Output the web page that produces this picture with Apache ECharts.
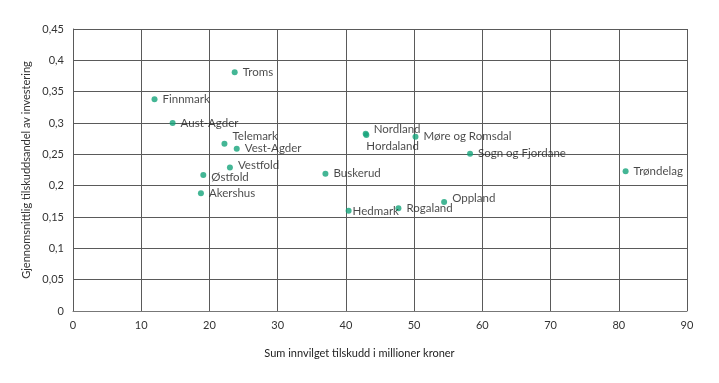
<!DOCTYPE html>
<html>
<head>
<meta charset="utf-8">
<script src="https://cdn.jsdelivr.net/npm/echarts@6/dist/echarts.min.js"></script>
<style>
html,body{margin:0;padding:0;background:#fff;}
#c{width:719px;height:383px;}
</style>
</head>
<body>
<div id="c"></div>
<script>
// Data
var counties = ["Troms","Finnmark","Aust-Agder","Telemark","Vest-Agder","Vestfold","Østfold","Akershus","Buskerud","Nordland","Hordaland","Møre og Romsdal","Sogn og Fjordane","Trøndelag","Oppland","Rogaland","Hedmark"];
var grantSum = [23.7, 11.95, 14.6, 22.2, 24.0, 23.0, 19.1, 18.75, 37.0, 42.9, 43.0, 50.2, 58.2, 81.0, 54.4, 47.7, 40.4];
var grantShare = [0.381, 0.338, 0.300, 0.267, 0.259, 0.229, 0.217, 0.188, 0.219, 0.283, 0.281, 0.278, 0.251, 0.223, 0.174, 0.164, 0.160];
var xTicks = [0, 10, 20, 30, 40, 50, 60, 70, 80, 90];
var yTicks = [0, 0.05, 0.1, 0.15, 0.2, 0.25, 0.3, 0.35, 0.4, 0.45];
var xTitle = "Sum innvilget tilskudd i millioner kroner";
var yTitle = "Gjennomsnittlig tilskuddsandel av investering";

// label placement tweaks (styling only)
var labelOffsets = {
  "Telemark": [0, -7],
  "Nordland": [0, -4],
  "Hordaland": [-8, 11],
  "Oppland": [0, -4],
  "Hedmark": [-4, 1],
  "Vestfold": [0, -2],
  "Østfold": [0, 2]
};

var points = counties.map(function (n, i) {
  var item = { name: n, value: [grantSum[i], grantShare[i]] };
  if (labelOffsets[n]) item.label = { offset: labelOffsets[n] };
  return item;
});

var FONT = "Lato";
var chart = echarts.init(document.getElementById('c'), null, { renderer: 'canvas' });
chart.setOption({
  animation: false,
  backgroundColor: '#fff',
  textStyle: { fontFamily: FONT },
  title: {
    text: xTitle,
    left: 'center',
    top: 343,
    textStyle: { fontFamily: FONT, fontSize: 11, fontWeight: 'normal', color: '#222' }
  },
  grid: { left: 73, right: 32, top: 29, bottom: 72, containLabel: false },
  xAxis: {
    type: 'value',
    min: xTicks[0],
    max: xTicks[xTicks.length - 1],
    interval: 10,
    axisLine: { show: true, lineStyle: { color: '#777', width: 1 } },
    axisTick: { show: false },
    axisLabel: { color: '#333', fontSize: 11, margin: 9, fontFamily: FONT },
    splitLine: { show: true, lineStyle: { color: '#5a5a5a', width: 1 } }
  },
  yAxis: {
    type: 'value',
    min: yTicks[0],
    max: yTicks[yTicks.length - 1],
    interval: 0.05,
    name: yTitle,
    nameLocation: 'middle',
    nameGap: 40,
    nameTextStyle: { color: '#333', fontSize: 11, fontFamily: FONT },
    axisLine: { show: true, lineStyle: { color: '#5a5a5a', width: 1 } },
    axisTick: { show: false },
    axisLabel: {
      color: '#333', fontSize: 11, margin: 9, fontFamily: FONT,
      formatter: function (v) { return String(Math.round(v * 100) / 100).replace('.', ','); }
    },
    splitLine: { show: true, lineStyle: { color: '#5a5a5a', width: 1 } }
  },
  series: [{
    type: 'scatter',
    data: points,
    symbolSize: 6,
    itemStyle: { color: '#15a47a' },
    label: {
      show: true,
      position: 'right',
      distance: 5,
      formatter: '{b}',
      color: '#1a1a1a',
      fontSize: 11.5,
      fontFamily: FONT
    }
  }]
});
</script>
</body>
</html>
